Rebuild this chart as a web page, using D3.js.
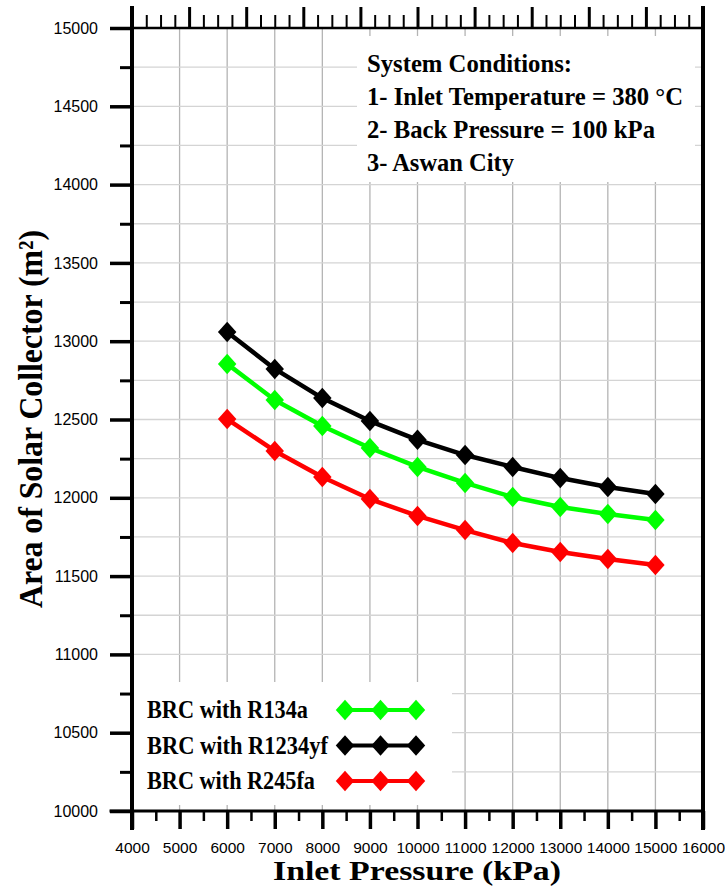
<!DOCTYPE html>
<html>
<head>
<meta charset="utf-8">
<script src="https://cdn.jsdelivr.net/npm/d3@7"></script>
<style>
	body { margin: 0; background: #fff; }
	svg { display: block; }
</style>
</head>
<body>
<svg id="chart" width="725" height="888"></svg>
<script>
// data
const pressures = [6000, 7000, 8000, 9000, 10000, 11000, 12000, 13000, 14000, 15000]
const r134a = [12855, 12625, 12459, 12318, 12197, 12095, 12005, 11941, 11897, 11858]
const r1234yf = [13059, 12823, 12637, 12490, 12370, 12273, 12197, 12126, 12069, 12024]
const r245fa = [12503, 12299, 12133, 11992, 11884, 11794, 11711, 11654, 11609, 11571]
const seriesNames = ["BRC with R134a", "BRC with R1234yf", "BRC with R245fa"]
const seriesColors = ["#00ff00", "#000000", "#ff0000"]
const xTicks = [4000, 5000, 6000, 7000, 8000, 9000, 10000, 11000, 12000, 13000, 14000, 15000, 16000]
const yTicks = [10000, 10500, 11000, 11500, 12000, 12500, 13000, 13500, 14000, 14500, 15000]
const conditions = ["System Conditions:", "1- Inlet Temperature = 380 °C", "2- Back Pressure = 100 kPa", "3- Aswan City"]

const serif = "'Liberation Serif','Times New Roman',serif"
const sans = "'Liberation Sans',Arial,sans-serif"

let svg = d3.select("#chart")
let x = d3.scaleLinear().domain([4000, 16000]).range([132, 703])
let y = d3.scaleLinear().domain([10000, 15000]).range([811, 28])
let xTop = d3.scaleLinear().domain([0, 10]).range([132, 703])

// square diamond, a bit taller than wide
const diamond = {
	draw(ctx, size) {
		let h = Math.sqrt(size) / 2, w = h * 0.9
		ctx.moveTo(0, -h); ctx.lineTo(w, 0); ctx.lineTo(0, h); ctx.lineTo(-w, 0); ctx.closePath()
	}
}

// grid
let grid = svg.append("g")
grid.selectAll(".vg").data(d3.range(5000, 16000, 1000)).enter().append("line")
	.attr("x1", d => x(d)).attr("x2", d => x(d)).attr("y1", y(15000)).attr("y2", y(10000))
	.style("stroke", "#b4b4b4").style("stroke-width", "1.3px")
grid.selectAll(".hg").data(d3.range(10250, 15000, 250)).enter().append("line")
	.attr("x1", x(4000)).attr("x2", x(16000)).attr("y1", d => y(d)).attr("y2", d => y(d))
	.style("stroke", "#d4d4d4").style("stroke-width", "1.3px")

// white boxes behind the notes and legend
svg.append("rect").attr("x", 357).attr("y", 36).attr("width", 338).attr("height", 146).style("fill", "#fff")
svg.append("rect").attr("x", 134).attr("y", 682).attr("width", 318).attr("height", 123).style("fill", "#fff")

// axes
function styleAxis(g, w) {
	g.select(".domain").remove()
	g.selectAll(".tick line").style("stroke", "#000").style("stroke-width", w)
	g.selectAll("text").style("font-family", sans).style("fill", "#000")
}
svg.append("g").attr("transform", `translate(0,${y(10000)})`)
	.call(d3.axisBottom(x).tickValues(d3.range(4500, 16000, 1000)).tickSize(10).tickFormat(""))
	.call(g => styleAxis(g, "2.5px"))
svg.append("g").attr("transform", `translate(0,${y(10000)})`)
	.call(d3.axisBottom(x).tickValues(xTicks).tickSize(18).tickPadding(13).tickFormat(d3.format("d")))
	.call(g => styleAxis(g, "3.5px"))
	.selectAll("text").style("font-size", "15.5px")

svg.append("g").attr("transform", `translate(${x(4000)},0)`)
	.call(d3.axisLeft(y).tickValues(d3.range(10250, 15000, 500)).tickSize(12).tickFormat(""))
	.call(g => styleAxis(g, "3px"))
svg.append("g").attr("transform", `translate(${x(4000)},0)`)
	.call(d3.axisLeft(y).tickValues(yTicks).tickSize(22).tickPadding(12).tickFormat(d3.format("d")))
	.call(g => styleAxis(g, "3.5px"))
	.selectAll("text").style("font-size", "16px")

svg.append("g").attr("transform", `translate(0,${y(15000)})`)
	.call(d3.axisTop(xTop).tickValues(d3.range(0, 10, 0.25).filter(d => d % 1 != 0)).tickSize(13).tickFormat(""))
	.call(g => styleAxis(g, "2px"))
svg.append("g").attr("transform", `translate(0,${y(15000)})`)
	.call(d3.axisTop(xTop).ticks(10).tickSize(21).tickFormat(""))
	.call(g => styleAxis(g, "3px"))

// frame
let frame = svg.append("g").style("stroke", "#000").style("stroke-linecap", "square")
frame.append("line").attr("x1", x(4000)).attr("x2", x(4000)).attr("y1", y(15000) - 20).attr("y2", y(10000) + 17).style("stroke-width", "4px")
frame.append("line").attr("x1", x(16000)).attr("x2", x(16000)).attr("y1", y(15000) - 20).attr("y2", y(10000) + 17).style("stroke-width", "4px")
frame.append("line").attr("x1", x(4000) - 21).attr("x2", x(16000)).attr("y1", y(10000)).attr("y2", y(10000)).style("stroke-width", "3px")
frame.append("line").attr("x1", x(4000)).attr("x2", x(16000)).attr("y1", y(15000)).attr("y2", y(15000)).style("stroke-width", "2.5px")

// series
let series = [r134a, r1234yf, r245fa].map((vals, i) => ({
	name: seriesNames[i], color: seriesColors[i],
	points: vals.map((v, j) => ({p: pressures[j], v: v}))
}))
let line = d3.line().x(d => x(d.p)).y(d => y(d.v))
let sg = svg.selectAll(".series").data(series).enter().append("g").classed("series", true)
sg.append("path").attr("d", d => line(d.points))
	.style("fill", "none").style("stroke", d => d.color).style("stroke-width", "4.5px").style("stroke-linejoin", "round")
sg.selectAll(".mark").data(d => d.points.map(o => ({...o, color: d.color}))).enter().append("path").classed("mark", true)
	.attr("d", d3.symbol().type(diamond).size(420))
	.attr("transform", d => `translate(${x(d.p)},${y(d.v)})`)
	.style("fill", d => d.color)

// legend
let lg = svg.selectAll(".legend").data(series).enter().append("g").classed("legend", true)
	.attr("transform", (d, i) => `translate(0,${710 + i * 35.5})`)
lg.append("text").attr("x", 147).attr("y", 8).text(d => d.name)
	.style("font-family", serif).style("font-weight", "bold").style("font-size", "25px")
	.attr("textLength", (d, i) => [161, 181, 168][i]).attr("lengthAdjust", "spacingAndGlyphs")
lg.append("line").attr("x1", 345).attr("x2", 416).attr("y1", 0).attr("y2", 0)
	.style("stroke", d => d.color).style("stroke-width", "4px")
lg.selectAll(".lm").data(d => [345, 380.5, 416].map(cx => ({cx: cx, color: d.color}))).enter().append("path")
	.attr("d", d3.symbol().type(diamond).size(420))
	.attr("transform", d => `translate(${d.cx},0)`)
	.style("fill", d => d.color)

// system conditions note
const condWidths = [205, 316, 288, 147]
svg.append("g").selectAll("text").data(conditions).enter().append("text")
	.attr("x", 367).attr("y", (d, i) => 72 + i * 33)
	.attr("textLength", (d, i) => condWidths[i]).attr("lengthAdjust", "spacingAndGlyphs")
	.text(d => d)
	.style("font-family", serif).style("font-weight", "bold").style("font-size", "26px")

// axis titles
svg.append("text").attr("x", 417).attr("y", 880).attr("text-anchor", "middle")
	.attr("textLength", 288).attr("lengthAdjust", "spacingAndGlyphs")
	.text("Inlet Pressure (kPa)")
	.style("font-family", serif).style("font-weight", "bold").style("font-size", "28px")
svg.append("text").attr("transform", "translate(42,419) rotate(-90)").attr("text-anchor", "middle")
	.attr("textLength", 378).attr("lengthAdjust", "spacingAndGlyphs")
	.text("Area of Solar Collector (m²)")
	.style("font-family", serif).style("font-weight", "bold").style("font-size", "34px")
</script>
</body>
</html>
